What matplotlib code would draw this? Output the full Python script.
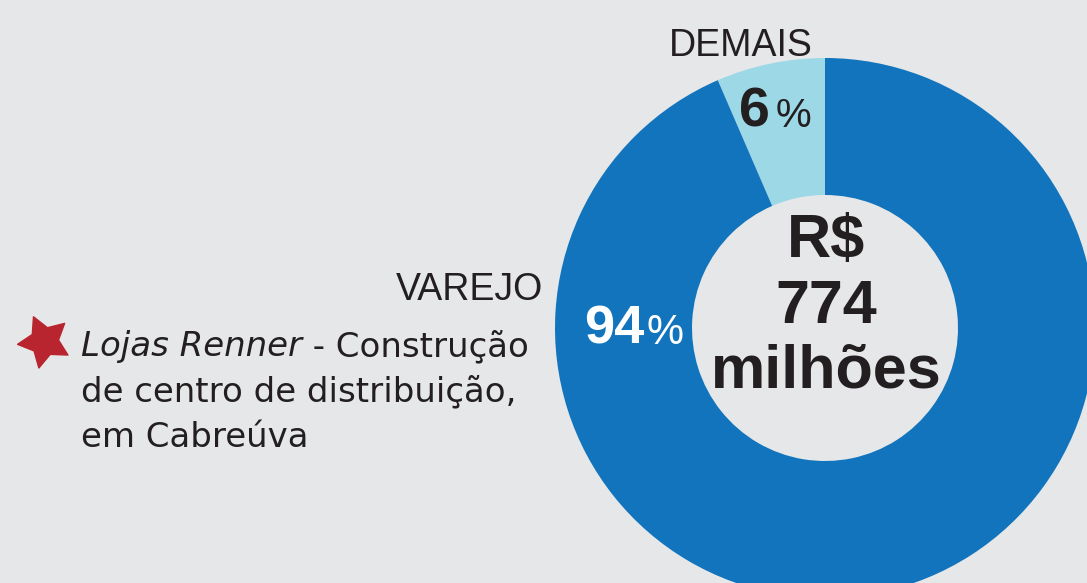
import matplotlib.pyplot as plt
from matplotlib.markers import MarkerStyle
from matplotlib.path import Path
from matplotlib.transforms import Affine2D

W, H = 1087, 583

# data
shares = [6.5, 93.5]
share_labels = ['6', '94']
categories = ['DEMAIS', 'VAREJO']
total_lines = ['R$', '774', 'milhões']
note_italic = 'Lojas Renner'
note_lines = [' - Construção', 'de centro de distribuição,', 'em Cabreúva']

bg = '#e6e7e9'
dark_blue = '#1174bc'
light_blue = '#9dd8e7'
ink = '#231f20'


def py(y):
    # pixel row (from top) -> data y
    return H - y


fig = plt.figure(figsize=(W / 100, H / 100), dpi=100, facecolor=bg)
ax = fig.add_axes([0, 0, 1, 1])
ax.set_facecolor(bg)

ax.pie(shares, colors=[light_blue, dark_blue], startangle=90, counterclock=True,
       center=(825, py(328)), radius=270,
       wedgeprops=dict(width=137, linewidth=0))
ax.set_xlim(0, W)
ax.set_ylim(0, H)
ax.set_aspect('auto')
ax.axis('off')

lab = dict(family='Liberation Sans')

# category labels
ax.text(741, py(56.5), categories[0], ha='center', va='baseline', fontsize=27, color=ink, **lab)
ax.text(543, py(300), categories[1], ha='right', va='baseline', fontsize=27, color=ink, **lab)

# percentages
ax.text(770, py(126.7), share_labels[0], ha='right', va='baseline', fontsize=40,
        fontweight='bold', color=ink, **lab)
ax.text(776, py(126.7), '%', ha='left', va='baseline', fontsize=29, color=ink, **lab)
ax.text(644, py(344), share_labels[1], ha='right', va='baseline', fontsize=39,
        fontweight='bold', color='white', **lab)
ax.text(646, py(344), '%', ha='left', va='baseline', fontsize=30, color='white', **lab)

# total in the hole
for txt, yb in zip(total_lines, [257, 323, 388]):
    ax.text(826, py(yb), txt, ha='center', va='baseline', fontsize=44,
            fontweight='bold', color=ink, **lab)

# star + note
star = MarkerStyle(Path.unit_regular_star(5, 0.52), transform=Affine2D().rotate_deg(24))
ax.plot(43.5, py(341), marker=star, markersize=39, color='#b8252f', linestyle='none')

body = dict(family='DejaVu Sans', fontsize=24.5, color=ink)
t1 = ax.text(81, py(356), note_italic, ha='left', va='baseline', style='italic', **body)
ax.annotate(note_lines[0], xy=(1, 0), xycoords=t1, ha='left', va='bottom', **body)
for txt, yb in zip(note_lines[1:], [401.7, 446.7]):
    ax.text(81, py(yb), txt, ha='left', va='baseline', **body)

plt.savefig('out.png', dpi=100, facecolor=bg)
